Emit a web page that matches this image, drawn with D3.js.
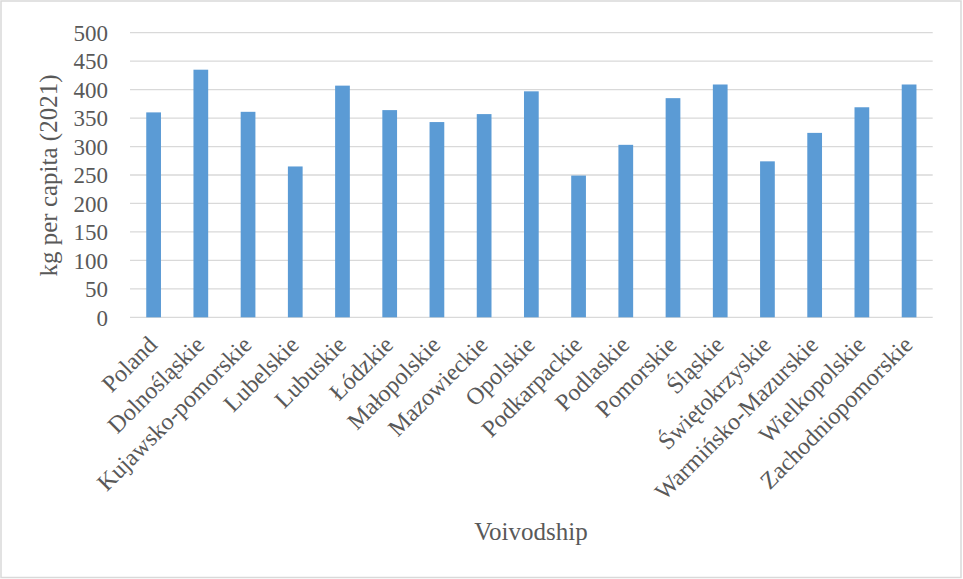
<!DOCTYPE html>
<html>
<head>
<meta charset="utf-8">
<script src="https://cdn.jsdelivr.net/npm/d3@7"></script>
<style>
  html, body { margin: 0; padding: 0; background: #fff; }
  svg { display: block; }
  svg text { font-family: "Liberation Serif", "Times New Roman", serif !important; fill: #595959; }
</style>
</head>
<body>
<svg id="chart" width="963" height="579"></svg>
<script>
// Municipal waste per capita by voivodship, 2021
const categories = [
  "Poland", "Dolnośląskie", "Kujawsko-pomorskie", "Lubelskie", "Lubuskie",
  "Łódzkie", "Małopolskie", "Mazowieckie", "Opolskie", "Podkarpackie",
  "Podlaskie", "Pomorskie", "Śląskie", "Świętokrzyskie", "Warmińsko-Mazurskie",
  "Wielkopolskie", "Zachodniopomorskie"
];
const values = [360, 435, 361, 265, 407, 364, 343, 357, 397, 249, 303, 385, 409, 274, 324, 369, 409];
const yTicks = [0, 50, 100, 150, 200, 250, 300, 350, 400, 450, 500];
const yTitle = "kg per capita (2021)";
const xTitle = "Voivodship";

const FONT = "'Liberation Serif', 'Times New Roman', serif";
const svg = d3.select("#chart");
const W = 963, H = 579;
const plot = { left: 130, right: 932.7, top: 32.7, bottom: 317.3 };

// outer chart frame
svg.append("rect")
  .attr("x", 1).attr("y", 1)
  .attr("width", W - 3).attr("height", H - 2.5)
  .attr("fill", "#fff").attr("stroke", "#d9d9d9").attr("stroke-width", 1.5);

const x = d3.scaleBand()
  .domain(categories)
  .range([plot.left, plot.right])
  .paddingInner(0.688)
  .paddingOuter(0.344);

const y = d3.scaleLinear()
  .domain([0, 500])
  .range([plot.bottom, plot.top]);

// horizontal gridlines
svg.append("g")
  .selectAll("line")
  .data(yTicks)
  .join("line")
  .attr("x1", plot.left).attr("x2", plot.right)
  .attr("y1", d => y(d)).attr("y2", d => y(d))
  .attr("stroke", "#d9d9d9").attr("stroke-width", 1.3);

// y axis labels
const yAxis = d3.axisLeft(y).tickValues(yTicks).tickSize(0).tickPadding(0);
const gy = svg.append("g")
  .attr("transform", `translate(${plot.left - 22},0)`)
  .call(yAxis)
  .attr("font-family", FONT)
  .attr("font-size", 23);
gy.select(".domain").remove();
gy.selectAll("text")
  .attr("fill", "#595959")
  .attr("dy", "0.34em");

// bars
svg.append("g")
  .selectAll("rect")
  .data(values)
  .join("rect")
  .attr("x", (d, i) => x(categories[i]))
  .attr("width", x.bandwidth())
  .attr("y", d => y(d))
  .attr("height", d => y(0) - y(d))
  .attr("fill", "#5b9bd5");

// category labels, rotated 45°
const xAxis = d3.axisBottom(x).tickSize(0).tickPadding(0);
const gx = svg.append("g")
  .attr("transform", `translate(0,${plot.bottom})`)
  .call(xAxis)
  .attr("font-family", FONT)
  .attr("font-size", 24);
gx.select(".domain").remove();
gx.selectAll("text")
  .attr("fill", "#595959")
  .attr("text-anchor", "end")
  .attr("y", 0)
  .attr("dy", "0.35em")
  .attr("transform", "translate(-1,23) rotate(-45)");

// axis titles
svg.append("text")
  .attr("transform", `translate(57,175.5) rotate(-90)`)
  .attr("text-anchor", "middle")
  .attr("font-size", 25)
  .text(yTitle);

svg.append("text")
  .attr("x", 531).attr("y", 539.5)
  .attr("text-anchor", "middle")
  .attr("font-size", 25)
  .text(xTitle);
</script>
</body>
</html>
